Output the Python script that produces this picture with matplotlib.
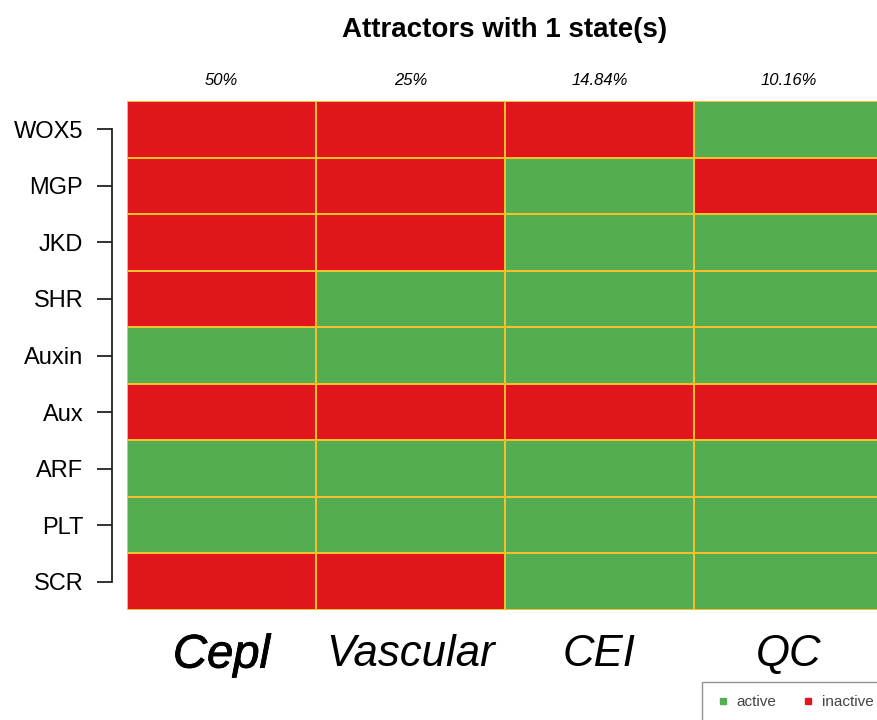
import matplotlib.pyplot as plt
import matplotlib.patheffects as pe
import numpy as np
from matplotlib.colors import ListedColormap
from matplotlib.lines import Line2D

plt.rcParams['font.family'] = ['Liberation Sans', 'DejaVu Sans']

# attractor states: 1 = active, 0 = inactive
genes = ['WOX5', 'MGP', 'JKD', 'SHR', 'Auxin', 'Aux', 'ARF', 'PLT', 'SCR']
attractors = ['Cepl', 'Vascular', 'CEI', 'QC']
basin_pct = ['50%', '25%', '14.84%', '10.16%']
states = [
    [0, 0, 0, 1],
    [0, 0, 1, 0],
    [0, 0, 1, 1],
    [0, 1, 1, 1],
    [1, 1, 1, 1],
    [0, 0, 0, 0],
    [1, 1, 1, 1],
    [1, 1, 1, 1],
    [0, 0, 1, 1],
]

red = '#e1161c'
green = '#54ae51'
grid_col = '#f6c02a'

fig = plt.figure(figsize=(8.78, 7.2), dpi=100)
# the last column runs a little past the right edge of the figure
ax = fig.add_axes([127 / 878, 110 / 720, 756 / 878, 509 / 720])

data = np.array(states)
ax.pcolormesh(np.arange(len(attractors) + 1), np.arange(len(genes) + 1), data,
              cmap=ListedColormap([red, green]), vmin=0, vmax=1,
              edgecolors=grid_col, linewidth=1.2)
ax.set_xlim(0, len(attractors))
ax.set_ylim(len(genes), 0)

for side in ['top', 'right', 'bottom']:
    ax.spines[side].set_visible(False)
ax.spines['left'].set_position(('outward', 11))
ax.spines['left'].set_bounds(0.5, len(genes) - 0.5)
ax.spines['left'].set_linewidth(1.3)
ax.spines['left'].set_color('#222222')

ax.set_yticks(np.arange(len(genes)) + 0.5)
ax.set_yticklabels(genes, fontsize=17)
ax.tick_params(axis='y', length=10.5, width=1.3, color='#222222', pad=10)

ax.set_xticks(np.arange(len(attractors)) + 0.5)
ax.set_xticklabels(attractors, fontsize=31.5, style='italic')
ax.tick_params(axis='x', length=0, pad=17)
cepl = ax.get_xticklabels()[0]
cepl.set_fontsize(34)
cepl.set_path_effects([pe.withStroke(linewidth=0.6, foreground='black')])

for i, p in enumerate(basin_pct):
    ax.text(i + 0.5, 1.04, p, transform=ax.get_xaxis_transform(),
            ha='center', va='center', fontsize=12, style='italic')

fig.text(505 / 878, 1 - 30 / 720, 'Attractors with 1 state(s)',
         ha='center', va='center', fontsize=20, fontweight='bold')

handles = [Line2D([], [], marker='s', color=green, linestyle='none', markersize=4.5),
           Line2D([], [], marker='s', color=red, linestyle='none', markersize=4.5)]
leg = fig.legend(handles, ['active', 'inactive'], loc='upper left',
                 bbox_to_anchor=(702 / 878, 1 - 682 / 720), borderaxespad=0,
                 ncol=2, fontsize=11, frameon=True, fancybox=False,
                 edgecolor='#777777', handletextpad=0.4, columnspacing=1.6,
                 borderpad=0.85, handlelength=1.0)
for t in leg.get_texts():
    t.set_color('#444444')

fig.savefig('out.png', dpi=100)
